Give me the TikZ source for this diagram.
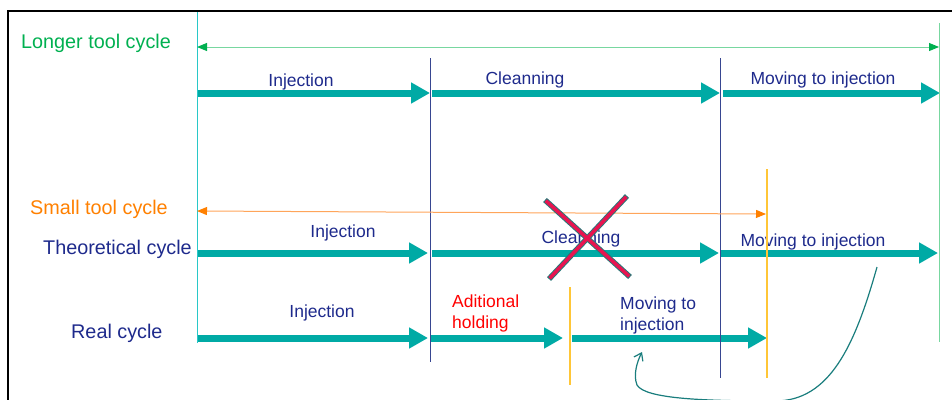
\documentclass[tikz,border=0pt]{standalone}
\usepackage{fontspec}
\setmainfont{Liberation Sans}
\usetikzlibrary{arrows.meta}

\definecolor{flowteal}{RGB}{0,170,165}
\definecolor{navytext}{RGB}{30,42,140}
\definecolor{longgreen}{RGB}{0,176,80}
\definecolor{longline}{RGB}{120,215,160}
\definecolor{smallorange}{RGB}{255,128,0}
\definecolor{smallline}{RGB}{255,165,90}
\definecolor{markyellow}{RGB}{255,198,55}
\definecolor{divblue}{RGB}{55,70,145}
\definecolor{edgeteal}{RGB}{40,200,200}
\definecolor{crossred}{RGB}{232,20,80}
\definecolor{crossedge}{RGB}{40,120,120}
\definecolor{curveteal}{RGB}{25,125,125}

\begin{document}
\begin{tikzpicture}[x=1pt,y=-1pt,
  flow/.style={line width=7pt, draw=flowteal, -{Triangle[length=19pt,width=20pt]}},
  rowlabel/.style={anchor=west, inner sep=0pt, font=\fontsize{19.8}{23}\selectfont},
  seglabel/.style={anchor=base, inner sep=0pt, text=navytext, font=\fontsize{17.5}{21}\selectfont},
  twoline/.style={anchor=base west, inner sep=0pt, align=left, font=\fontsize{17.5}{21}\selectfont},
  span/.style={line width=1pt},
  divider/.style={line width=0.7pt, draw=divblue},
  marker/.style={line width=1.2pt, draw=markyellow}
]
\useasboundingbox (0,0) rectangle (952,399);

% outer frame (top and left edges)
\coordinate (frameTL) at (8,11);
\coordinate (frameTR) at (953,11);
\coordinate (frameBL) at (8,400);
\draw[line width=2pt] (frameTR) -- (frameTL) -- (frameBL);

% row captions
\node[rowlabel, text=longgreen]   (longcap)  at (21,43)  {Longer tool cycle};
\node[rowlabel, text=smallorange] (smallcap) at (30,209) {Small tool cycle};
\node[rowlabel, text=navytext]    (theocap)  at (43,249) {Theoretical cycle};
\node[rowlabel, text=navytext]    (realcap)  at (71,333) {Real cycle};

% row 1: longer tool cycle
\coordinate (r1a) at (198,93);  \coordinate (r1b) at (430,93);
\coordinate (r1c) at (432,93);  \coordinate (r1d) at (720,93);
\coordinate (r1e) at (723,93);  \coordinate (r1f) at (940,93);
\draw[flow] (r1a) -- (r1b);
\draw[flow] (r1c) -- (r1d);
\draw[flow] (r1e) -- (r1f);
\node[seglabel] (r1inj)  at (301,86) {Injection};
\node[seglabel] (r1cln)  at (525,84) {Cleanning};
\node[seglabel] (r1mov)  at (823,84) {Moving to injection};

% row 2: theoretical cycle
\coordinate (r2a) at (198,253); \coordinate (r2b) at (428,253);
\coordinate (r2c) at (432,253); \coordinate (r2d) at (719,253);
\coordinate (r2e) at (720,253); \coordinate (r2f) at (938,253);
\draw[flow] (r2a) -- (r2b);
\draw[flow] (r2c) -- (r2d);
\draw[flow] (r2e) -- (r2f);
\node[seglabel] (r2inj) at (343,237) {Injection};
\node[seglabel] (r2cln) at (581,243) {Cleanning};
\node[seglabel] (r2mov) at (813,246) {Moving to injection};

% row 3: real cycle
\coordinate (r3a) at (198,338); \coordinate (r3b) at (428,338);
\coordinate (r3c) at (430,338); \coordinate (r3d) at (563,338);
\coordinate (r3e) at (572,338); \coordinate (r3f) at (767,338);
\draw[flow] (r3a) -- (r3b);
\draw[flow] (r3c) -- (r3d);
\draw[flow] (r3e) -- (r3f);
\node[seglabel] (r3inj) at (322,317) {Injection};
\node[twoline, text=red]      (r3hold) at (452,328) {Aditional\\holding};
\node[twoline, text=navytext] (r3mov)  at (620,330) {Moving to\\injection};

% vertical phase boundaries
\coordinate (startT) at (197,12);  \coordinate (startB) at (197,343);
\coordinate (endT)   at (939,23);  \coordinate (endB)   at (939,342);
\coordinate (divAT)  at (430,58);  \coordinate (divAB)  at (430,362);
\coordinate (divBT)  at (720,58);  \coordinate (divBB)  at (720,378);
\coordinate (yelAT)  at (767,169); \coordinate (yelAB)  at (767,378);
\coordinate (yelBT)  at (570,287); \coordinate (yelBB)  at (570,385);
\draw[line width=0.9pt, draw=edgeteal] (startT) -- (startB);
\draw[line width=1pt, draw=longline] (endT) -- (endB);
\draw[divider] (divAT) -- (divAB);
\draw[divider] (divBT) -- (divBB);
\draw[marker] (yelAT) -- (yelAB);
\draw[marker] (yelBT) -- (yelBB);

% cycle length spans
\coordinate (longL) at (197,47);  \coordinate (longR) at (939,47);
\coordinate (smallL) at (197,211); \coordinate (smallR) at (766,214);
\draw[span, draw=longline, {Triangle[length=10pt,width=8pt,color=longgreen]}-{Triangle[length=10pt,width=8pt,color=longgreen]}] (longL) -- (longR);
\draw[span, draw=smallline, {Triangle[length=10pt,width=8pt,color=smallorange]}-{Triangle[length=10pt,width=8pt,color=smallorange]}] (smallL) -- (smallR);

% cleaning step struck out
\coordinate (xa1) at (545,200); \coordinate (xa2) at (630,277);
\coordinate (xb1) at (627,196); \coordinate (xb2) at (549,279);
\draw[line width=5.5pt, draw=crossedge] (xa1) -- (xa2);
\draw[line width=5.5pt, draw=crossedge] (xb1) -- (xb2);
\draw[line width=3.5pt, draw=crossred, shorten <=1pt, shorten >=1pt] (xa1) -- (xa2);
\draw[line width=3.5pt, draw=crossred, shorten <=1pt, shorten >=1pt] (xb1) -- (xb2);

% moving step shifted into the real cycle
\coordinate (mvfrom) at (877,267);
\coordinate (mvto)   at (642,352);
\begin{scope}
\clip (0,0) rectangle (952,399);
\draw[line width=1.2pt, draw=curveteal, -{Straight Barb[length=7pt,width=10pt]}]
  (mvfrom) .. controls (855,345) and (830,401) .. (775,401)
  .. controls (705,401) and (645,399) .. (637,385)
  .. controls (633,375) and (637,362) .. (mvto);
\end{scope}
\end{tikzpicture}
\end{document}
